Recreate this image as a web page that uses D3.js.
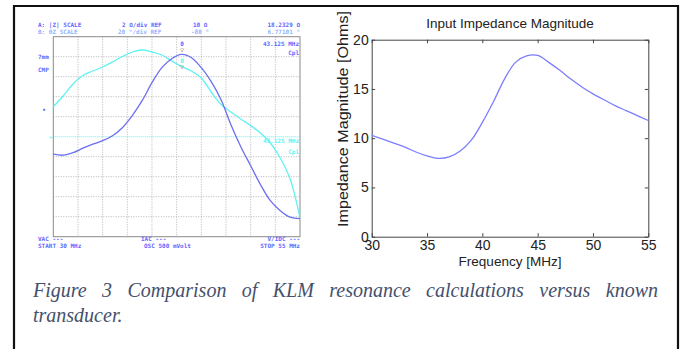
<!DOCTYPE html>
<html>
<head>
<meta charset="utf-8">
<script src="https://cdn.jsdelivr.net/npm/d3@7"></script>
<style>
  body { margin: 0; background: #fff; }
  svg { display: block; }
  .mono { font-family: "DejaVu Sans Mono", monospace; font-weight: bold; font-size: 6px; }
  .matlab { font-family: "Liberation Sans", Arial, sans-serif; }
</style>
</head>
<body>
<svg id="fig" width="686" height="349"></svg>
<script>
// Frequency grid (MHz) shared by all curves
var freqMHz = [30, 31, 32, 33, 34, 35, 36, 37, 38, 39, 40, 41, 42, 43, 44, 45, 46, 47, 48, 49, 50, 51, 52, 53, 54, 55];

// Measured transducer (analyzer screen): |Z| in ohms, phase in degrees
var analyzerMag = [8.25, 8.15, 8.4, 8.85, 9.25, 9.6, 10.1, 10.9, 12.1, 13.6, 15.4, 16.9, 17.8, 18.23, 17.9, 16.9, 15.5, 13.7, 11.2, 9.0, 7.1, 5.2, 3.6, 2.6, 1.95, 1.8];
var analyzerPhase = [-30, -19.3, -7.3, 1.2, 5.7, 9.7, 14.7, 20.2, 24.7, 26.7, 24.7, 21.7, 15.7, 10.2, 5.7, -1.3, -15.3, -27.8, -35.3, -42.3, -48.8, -56.3, -66.3, -81.3, -102.3, -141.3];

// KLM model result
var klmMag = [10.3, 9.9, 9.5, 9.1, 8.6, 8.2, 7.95, 8.1, 8.7, 9.8, 11.6, 13.7, 16.0, 17.7, 18.35, 18.4, 17.7, 16.9, 16.0, 15.2, 14.5, 13.9, 13.3, 12.8, 12.3, 11.8];

var freqTicks = [30, 35, 40, 45, 50, 55];
var magTicks = [0, 5, 10, 15, 20];
var captionLine1 = "Figure 3 Comparison of KLM resonance calculations versus known";
var captionLine2 = "transducer.";

var svg = d3.select("#fig");

// Outer frame of the figure
svg.append("path")
  .attr("d", "M14,352 L14,6 L678,6 L678,352")
  .attr("fill", "none")
  .attr("stroke", "#111")
  .attr("stroke-width", 2.2);

// ---------- Left panel: analyzer screen ----------
var sx = d3.scaleLinear().domain([30, 55]).range([53.3, 300]),
    syMag = d3.scaleLinear().domain([0, 20]).range([236.7, 36.7]),
    syPh = d3.scaleLinear().domain([-160, 40]).range([236.7, 36.7]),
    blue = "#6b6ff0",
    cyan = "#5ff2f2",
    txtBlue = "#5d67ff",
    txtLight = "#8fb4ff";

var screen = svg.append("g");

// dotted graticule: 10 x 10 divisions
screen.append("g").selectAll("line")
  .data(d3.range(1, 10))
  .enter().append("line")
    .attr("x1", function(i) { return sx(30 + 2.5 * i); })
    .attr("x2", function(i) { return sx(30 + 2.5 * i); })
    .attr("y1", syMag(20)).attr("y2", syMag(0))
    .attr("stroke", "#b5b5b5").attr("stroke-dasharray", "1,1.5");

screen.append("g").selectAll("line")
  .data(d3.range(1, 10).filter(function(i) { return i !== 5; }))
  .enter().append("line")
    .attr("x1", sx(30)).attr("x2", sx(55))
    .attr("y1", function(i) { return syMag(2 * i); })
    .attr("y2", function(i) { return syMag(2 * i); })
    .attr("stroke", "#b5b5b5").attr("stroke-dasharray", "1,1.5");

// reference line of trace B
screen.append("line")
  .attr("x1", sx(30)).attr("x2", sx(55))
  .attr("y1", syMag(10)).attr("y2", syMag(10))
  .attr("stroke", cyan).attr("stroke-dasharray", "1,1");

screen.append("rect")
  .attr("x", sx(30)).attr("y", syMag(20))
  .attr("width", sx(55) - sx(30)).attr("height", syMag(0) - syMag(20))
  .attr("fill", "none").attr("stroke", "#8a8a8a").attr("stroke-width", 1);

var magLine = d3.line()
  .x(function(d, i) { return sx(freqMHz[i]); })
  .y(function(d) { return syMag(d); })
  .curve(d3.curveCatmullRom.alpha(0.5));

var phLine = d3.line()
  .x(function(d, i) { return sx(freqMHz[i]); })
  .y(function(d) { return syPh(d); })
  .curve(d3.curveCatmullRom.alpha(0.5));

screen.append("path").datum(analyzerPhase)
  .attr("d", phLine).attr("fill", "none")
  .attr("stroke", cyan).attr("stroke-width", 1.3);

screen.append("path").datum(analyzerMag)
  .attr("d", magLine).attr("fill", "none")
  .attr("stroke", blue).attr("stroke-width", 1.3);

// screen annotations
var screenText = [
  {t: "A: |Z|  SCALE", x: 38, y: 27, c: txtBlue, a: "start"},
  {t: "2 \u03a9/div REF", x: 122, y: 27, c: txtBlue, a: "start"},
  {t: "10 \u03a9", x: 193, y: 27, c: txtBlue, a: "start"},
  {t: "18.2329 \u03a9", x: 300, y: 27, c: txtBlue, a: "end"},
  {t: "B: \u03b8Z   SCALE", x: 38, y: 34, c: txtLight, a: "start"},
  {t: "20 \u00b0/div REF", x: 118, y: 34, c: txtLight, a: "start"},
  {t: "-80 \u00b0", x: 191, y: 34, c: txtLight, a: "start"},
  {t: "6.77101 \u00b0", x: 300, y: 34, c: txtLight, a: "end"},
  {t: "43.125 MHz", x: 299, y: 46, c: txtBlue, a: "end"},
  {t: "Cpl", x: 299, y: 55, c: txtBlue, a: "end"},
  {t: "43.125 MHz", x: 299, y: 143, c: cyan, a: "end"},
  {t: "Cpl", x: 299, y: 154, c: cyan, a: "end"},
  {t: "7mm", x: 38, y: 59, c: txtBlue, a: "start"},
  {t: "CMP", x: 38, y: 72, c: txtBlue, a: "start"},
  {t: "\u2022", x: 44, y: 112, c: txtBlue, a: "middle"},
  {t: "\u25b8", x: 51, y: 139, c: cyan, a: "middle"},
  {t: "0", x: 182, y: 46, c: txtBlue, a: "middle"},
  {t: "\u25bd", x: 182, y: 52, c: "#555", a: "middle"},
  {t: "0", x: 182, y: 63, c: cyan, a: "middle"},
  {t: "\u25bd", x: 182, y: 69, c: "#555", a: "middle"},
  {t: "VAC ---", x: 38, y: 240.5, c: txtBlue, a: "start"},
  {t: "START 30 MHz", x: 38, y: 247.5, c: txtBlue, a: "start"},
  {t: "IAC ---", x: 141, y: 240.5, c: txtBlue, a: "start"},
  {t: "OSC 500 mVolt", x: 144, y: 247.5, c: txtBlue, a: "start"},
  {t: "V/IDC ---", x: 300, y: 240.5, c: txtBlue, a: "end"},
  {t: "STOP 55 MHz", x: 300, y: 247.5, c: txtBlue, a: "end"}
];

screen.append("g").selectAll("text")
  .data(screenText)
  .enter().append("text")
    .attr("class", "mono")
    .attr("x", function(d) { return d.x; })
    .attr("y", function(d) { return d.y; })
    .attr("fill", function(d) { return d.c; })
    .attr("text-anchor", function(d) { return d.a; })
    .text(function(d) { return d.t; });

// ---------- Right panel: KLM model ----------
var rx = d3.scaleLinear().domain([30, 55]).range([371.7, 648.3]),
    ry = d3.scaleLinear().domain([0, 20]).range([236.7, 39.7]),
    plot = svg.append("g").attr("class", "matlab");

plot.append("g")
  .attr("transform", "translate(0," + ry(0) + ")")
  .call(d3.axisBottom(rx).tickValues(freqTicks).tickSizeInner(-3.5).tickSizeOuter(0).tickPadding(3));

plot.append("g")
  .attr("transform", "translate(" + rx(30) + ",0)")
  .call(d3.axisLeft(ry).tickValues(magTicks).tickSizeInner(-3.5).tickSizeOuter(0).tickPadding(3));

plot.append("g")
  .attr("transform", "translate(0," + ry(20) + ")")
  .call(d3.axisTop(rx).tickValues(freqTicks).tickSizeInner(-3.5).tickSizeOuter(0).tickFormat(""));

plot.append("g")
  .attr("transform", "translate(" + rx(55) + ",0)")
  .call(d3.axisRight(ry).tickValues(magTicks).tickSizeInner(-3.5).tickSizeOuter(0).tickFormat(""));

plot.selectAll(".domain, .tick line").attr("stroke", "#444");
plot.selectAll(".tick text")
  .attr("fill", "#222")
  .style("font-family", "'Liberation Sans', Arial, sans-serif")
  .style("font-size", "14px");

plot.append("path").datum(klmMag)
  .attr("d", d3.line()
    .x(function(d, i) { return rx(freqMHz[i]); })
    .y(function(d) { return ry(d); })
    .curve(d3.curveCatmullRom.alpha(0.5)))
  .attr("fill", "none")
  .attr("stroke", "#7d7dff")
  .attr("stroke-width", 1.3);

plot.append("text")
  .attr("x", (rx(30) + rx(55)) / 2).attr("y", 28)
  .attr("text-anchor", "middle")
  .attr("fill", "#222").style("font-size", "13.5px")
  .text("Input Impedance Magnitude");

plot.append("text")
  .attr("x", (rx(30) + rx(55)) / 2).attr("y", 266)
  .attr("text-anchor", "middle")
  .attr("fill", "#222").style("font-size", "13.5px")
  .text("Frequency [MHz]");

plot.append("text")
  .attr("transform", "translate(348," + 119 + ") rotate(-90)")
  .attr("text-anchor", "middle")
  .attr("fill", "#222").style("font-size", "14px")
  .attr("textLength", 216).attr("lengthAdjust", "spacingAndGlyphs")
  .text("Impedance Magnitude [Ohms]");

// ---------- Caption (justified first line) ----------
var cap = svg.append("g")
  .style("font-family", "'Liberation Serif', 'Times New Roman', serif")
  .style("font-style", "italic")
  .style("font-size", "20px")
  .attr("fill", "#44506c");

var words = captionLine1.split(" "),
    left = 33, right = 658,
    widths = words.map(function(w) {
      var t = cap.append("text").text(w);
      var wd = t.node().getComputedTextLength();
      t.remove();
      return wd;
    }),
    gap = (right - left - d3.sum(widths)) / (words.length - 1),
    cx = left;

words.forEach(function(w, i) {
  cap.append("text").attr("x", cx).attr("y", 297).text(w);
  cx += widths[i] + gap;
});

cap.append("text").attr("x", left).attr("y", 322).text(captionLine2);
</script>
</body>
</html>
